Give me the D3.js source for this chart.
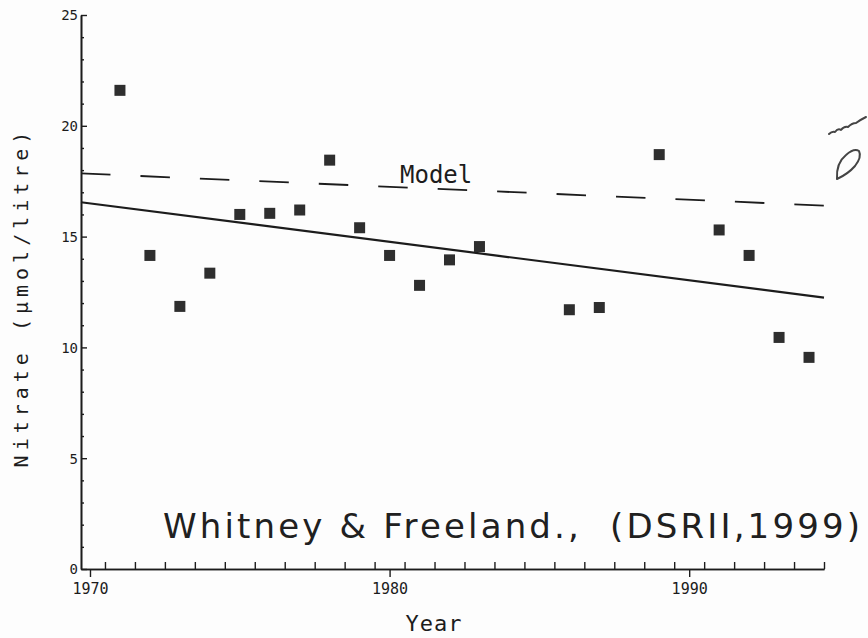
<!DOCTYPE html>
<html>
<head>
<meta charset="utf-8">
<script src="https://cdn.jsdelivr.net/npm/d3@7"></script>
<style>
  html, body { margin: 0; padding: 0; background: #fdfdfd; }
  svg { display: block; }
</style>
</head>
<body>
<svg id="chart" width="868" height="638"></svg>
<script>
// Annual mean winter nitrate, Station P / Line P
const years   = [1971, 1972, 1973, 1974, 1975, 1976, 1977, 1978, 1979, 1980,
                 1981, 1982, 1983, 1986, 1987, 1989, 1991, 1992, 1993, 1994];
const nitrate = [21.6, 14.15, 11.85, 13.35, 16.0, 16.05, 16.2, 18.45, 15.4, 14.15,
                 12.8, 13.95, 14.55, 11.7, 11.8, 18.7, 15.3, 14.15, 10.45, 9.55];

// Regression line and model trend (end points)
const lineYears   = [1969.7, 1994.5];
const trendValues = [16.55, 12.25];
const modelValues = [17.85, 16.4];

// Axis ticks
const yearLabels   = [1970, 1980, 1990];
const halfYears    = d3.range(1970.5, 1995, 1);
const yMajorTicks  = [0, 5, 10, 15, 20, 25];
const yMinorTicks  = d3.range(0, 26, 1).filter(v => v % 5 !== 0);

const ink = "#1c1c1c";
const mono = "'DejaVu Sans Mono', 'Liberation Mono', monospace";

const svg = d3.select("#chart");

const x = d3.scaleLinear().domain([1969.7, 1994.5]).range([81, 824]);
const y = d3.scaleLinear().domain([0, 25]).range([569, 15]);

// X axis: decade ticks below with labels, half-year ticks above
const xMajor = d3.axisBottom(x).tickValues(yearLabels).tickSizeInner(8)
  .tickSizeOuter(0).tickPadding(6).tickFormat(d3.format("d"));
const gx = svg.append("g").attr("transform", `translate(0,${y(0)})`).call(xMajor);
const xMinor = d3.axisBottom(x).tickValues(halfYears).tickSizeInner(-7)
  .tickSizeOuter(0).tickFormat("");
const gx2 = svg.append("g").attr("transform", `translate(0,${y(0)})`).call(xMinor);

// Y axis: ticks on the inside
const yMajor = d3.axisLeft(y).tickValues(yMajorTicks).tickSizeInner(-6)
  .tickSizeOuter(0).tickPadding(3).tickFormat(d3.format("d"));
const gy = svg.append("g").attr("transform", `translate(${x(1969.7)},0)`).call(yMajor);
const yMinor = d3.axisLeft(y).tickValues(yMinorTicks).tickSizeInner(-3)
  .tickSizeOuter(0).tickFormat("");
const gy2 = svg.append("g").attr("transform", `translate(${x(1969.7)},0)`).call(yMinor);

[gx, gx2, gy, gy2].forEach(g => {
  g.selectAll("path.domain").attr("stroke", ink).attr("stroke-width", 1.6);
  g.selectAll(".tick line").attr("stroke", ink).attr("stroke-width", 1.4);
  g.selectAll("text").attr("fill", ink).style("font-family", mono);
});
gx.selectAll("text").style("font-size", "15px");
gy.selectAll("text").style("font-size", "14px").attr("dy", "0.35em");

// Axis titles
svg.append("text")
  .attr("x", 434).attr("y", 631)
  .attr("text-anchor", "middle")
  .style("font-family", mono).style("font-size", "22px")
  .style("letter-spacing", "1px")
  .attr("fill", ink)
  .text("Year");

svg.append("text")
  .attr("transform", "translate(28,297) rotate(-90)")
  .attr("text-anchor", "middle")
  .style("font-family", mono).style("font-size", "20px")
  .style("letter-spacing", "5px")
  .attr("fill", ink)
  .text("Nitrate (\u00b5mol/litre)");

// Model trend (dashed) and regression line (solid)
const line = d3.line().x(d => x(d[0])).y(d => y(d[1]));

svg.append("path")
  .datum(d3.zip(lineYears, modelValues))
  .attr("d", line)
  .attr("fill", "none").attr("stroke", ink).attr("stroke-width", 1.8)
  .attr("stroke-dasharray", "29.5,30");

svg.append("path")
  .datum(d3.zip(lineYears, trendValues))
  .attr("d", line)
  .attr("fill", "none").attr("stroke", ink).attr("stroke-width", 2.2);

svg.append("text")
  .attr("x", 400).attr("y", 183)
  .style("font-family", mono).style("font-size", "24px")
  .attr("fill", ink)
  .text("Model");

// Observations
const size = 11;
svg.append("g").selectAll("rect")
  .data(d3.zip(years, nitrate))
  .join("rect")
  .attr("x", d => x(d[0]) - size / 2)
  .attr("y", d => y(d[1]) - size / 2)
  .attr("width", size).attr("height", size)
  .attr("fill", "#2e2e2e");

// Source, letter-spaced to run from the plot's left side to the page edge
const sourceText = "Whitney & Freeland.,  (DSRII,1999)";
const source = svg.append("text")
  .attr("x", 163).attr("y", 538)
  .attr("xml:space", "preserve")
  .style("white-space", "pre")
  .style("font-family", "'DejaVu Sans', Verdana, sans-serif")
  .style("font-size", "34px")
  .attr("fill", "#202020")
  .text(sourceText);
const w0 = source.node().getComputedTextLength();
source.style("letter-spacing", ((697 - w0) / (sourceText.length - 1)).toFixed(2) + "px");

// Pencil marks in the margin
const pencil = svg.append("g").attr("fill", "none").attr("stroke", "#444")
  .attr("stroke-width", 2).attr("stroke-linecap", "round").attr("stroke-linejoin", "round");
pencil.append("path").attr("d", "M829,134 q3,-3 6,-2 q3,-4 6,-2 q3,-4 7,-3 q4,-4 8,-4 q4,-3 10,-6");
pencil.append("path").attr("d", "M837,179 q-1,-16 9,-24 q8,-7 13,-4 q3,6 -4,15 q-7,8 -18,13");
</script>
</body>
</html>
